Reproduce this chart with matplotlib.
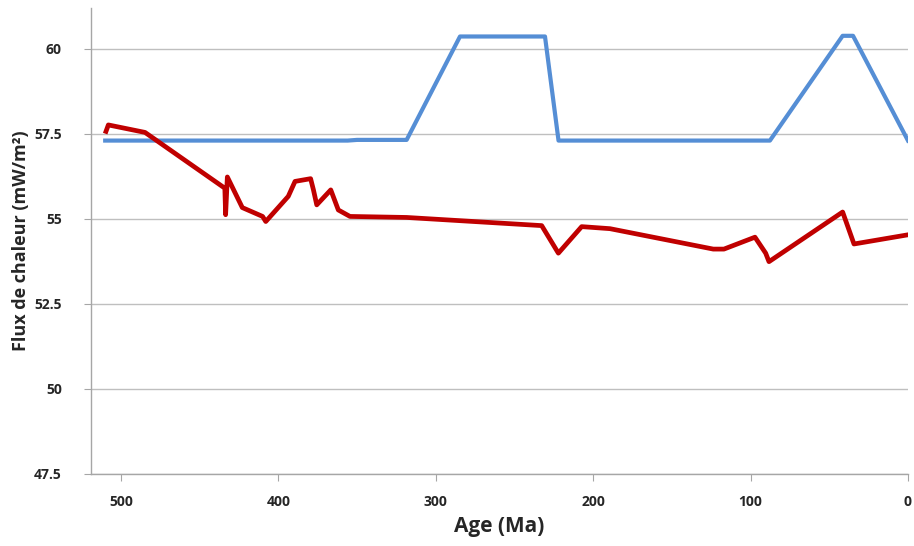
import matplotlib.pyplot as plt

# Data (ages in Ma, heat flow in mW/m2)
age_blue = [510, 356, 350, 318.5, 284.6, 230.6, 222, 87.7, 41.5, 34.9, 0]
flux_blue = [57.3, 57.3, 57.32, 57.32, 60.36, 60.36, 57.3, 57.3, 60.38, 60.38, 57.3]

age_red = [509.5, 508, 484.7, 434, 433.5, 432.4, 422.9, 410, 408, 393.7, 389.4,
           379.5, 377.7, 375.6, 366.7, 361.9, 354.5, 318.5, 232.7, 222.1, 207.3,
           189.3, 123.7, 116.9, 97.2, 90.4, 88.3, 41.5, 34.3, 0]
flux_red = [57.57, 57.76, 57.54, 55.90, 55.12, 56.23, 55.33, 55.07, 54.92, 55.66, 56.10,
            56.18, 55.85, 55.41, 55.85, 55.26, 55.07, 55.04, 54.80, 53.99, 54.77,
            54.71, 54.11, 54.11, 54.46, 53.99, 53.74, 55.20, 54.26, 54.53]

x_ticks = [500, 400, 300, 200, 100, 0]
y_ticks = [47.5, 50, 52.5, 55, 57.5, 60]

plt.rcParams['font.family'] = ['Open Sans', 'DejaVu Sans']

fig = plt.figure(figsize=(9.14, 5.46), dpi=100)
ax = fig.add_axes([0.0996, 0.132, 0.8938, 0.8535])

ax.plot(age_blue, flux_blue, color='#558ED5', linewidth=3.0, zorder=3)
ax.plot(age_red, flux_red, color='#C00000', linewidth=3.4, zorder=4)

ax.set_xlim(519, 0)
ax.set_ylim(47.5, 61.2)
ax.set_xticks(x_ticks)
ax.set_yticks(y_ticks)
ax.set_yticklabels(['47.5', '50', '52.5', '55', '57.5', '60'])

ax.grid(axis='y', color='#BFBFBF', linewidth=1.0)
ax.set_axisbelow(True)
for s in ['top', 'right']:
    ax.spines[s].set_visible(False)
for s in ['left', 'bottom']:
    ax.spines[s].set_color('#A6A6A6')
    ax.spines[s].set_linewidth(1.0)

ax.tick_params(axis='both', colors='#A6A6A6', length=5, labelcolor='#262626',
               labelsize=10)
ax.tick_params(axis='x', pad=10)
ax.tick_params(axis='y', pad=16)
for lbl in ax.get_xticklabels() + ax.get_yticklabels():
    lbl.set_fontweight('bold')

ax.set_xlabel('Age (Ma)', fontsize=15, fontweight='bold', color='#262626', labelpad=5)
ax.set_ylabel('Flux de chaleur (mW/m²)', fontsize=13, fontweight='bold', color='#262626', labelpad=3)

plt.savefig('out.png', dpi=100)
